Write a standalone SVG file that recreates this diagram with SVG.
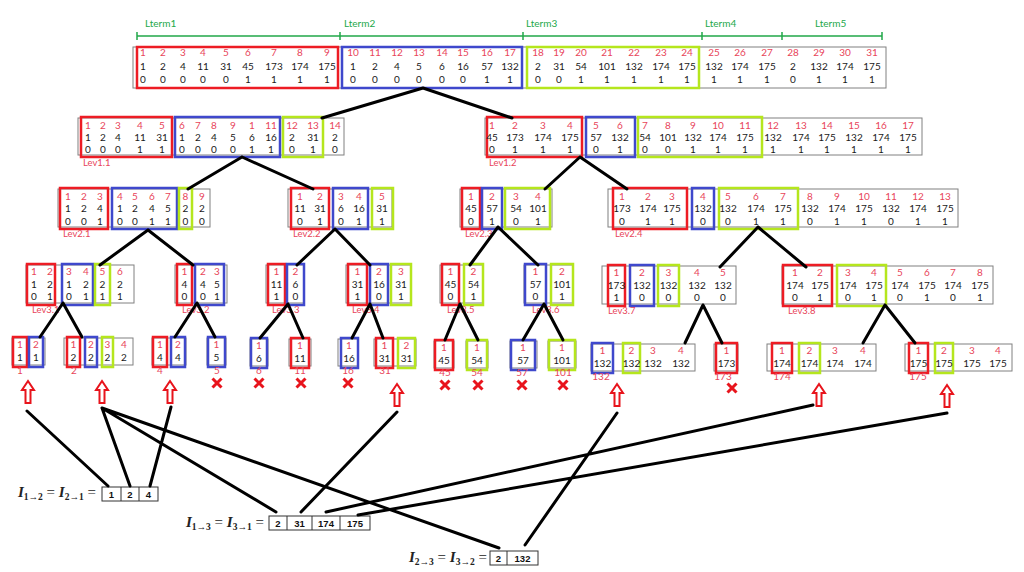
<svg xmlns="http://www.w3.org/2000/svg" xmlns:xlink="http://www.w3.org/1999/xlink" width="1024" height="572" viewBox="0 0 1024 572">
<style>
.o{fill:#fff;stroke:#808080;stroke-width:1}
.r{fill:none;stroke:#ed1c24;stroke-width:2.5}
.b{fill:none;stroke:#3f48cc;stroke-width:2.5}
.g{fill:none;stroke:#b5e61d;stroke-width:2.5}
.n{font-family:Lato,"Liberation Sans",sans-serif;font-size:10px;text-anchor:middle}
.t{fill:#e8455a}
.k{fill:#1a1a1a}
.lab{font-family:Lato,"Liberation Sans",sans-serif;font-size:9.5px;fill:#e8455a}
.lt{font-family:Lato,"Liberation Sans",sans-serif;font-size:10px;fill:#22a84a}
.tl{stroke:#22a84a;stroke-width:1.5;fill:none}
.c{stroke:#000;stroke-width:3;stroke-linecap:round;fill:none}
.x{stroke:#e8141c;stroke-width:3;fill:none}
.eq{font-family:"Liberation Serif",serif;font-size:15px;fill:#222}
.i{font-style:italic;font-weight:bold}
.cell{fill:#fff;stroke:#333;stroke-width:1}
.cn{font-family:"Liberation Sans",sans-serif;font-size:9.5px;font-weight:bold;text-anchor:middle;fill:#111}
</style>
<defs>
<path id="arr" d="M0,-11 L6,-2 L2.5,-2 L2.5,11 L-2.5,11 L-2.5,-2 L-6,-2 Z" fill="#fff" stroke="#e8141c" stroke-width="2"/>
<path id="xx" d="M-4.5,-4.5 L4.5,4.5 M4.5,-4.5 L-4.5,4.5" class="x"/>
</defs>
<rect width="1024" height="572" fill="#fff"/>

<g id="lterm">
<path class="tl" d="M137,36 H882 M137,32 V40 M340,32 V40 M523,32 V40 M702,32 V40 M782,32 V40 M882,32 V40"/>
<text class="lt" x="145" y="27">Lterm1</text>
<text class="lt" x="344" y="27">Lterm2</text>
<text class="lt" x="526" y="27">Lterm3</text>
<text class="lt" x="705" y="27">Lterm4</text>
<text class="lt" x="815" y="27">Lterm5</text>
</g>

<g id="top">
<rect class="o" x="133" y="47" width="753" height="41"/>
<rect class="r" x="137" y="47" width="201" height="41"/>
<rect class="b" x="342" y="47" width="180" height="41"/>
<rect class="g" x="527" y="47" width="172" height="41"/>
<text class="n t" y="56"><tspan x="143">1</tspan><tspan x="163">2</tspan><tspan x="183">3</tspan><tspan x="203">4</tspan><tspan x="226">5</tspan><tspan x="248">6</tspan><tspan x="274">7</tspan><tspan x="300">8</tspan><tspan x="327">9</tspan><tspan x="353">10</tspan><tspan x="375">11</tspan><tspan x="397">12</tspan><tspan x="419">13</tspan><tspan x="442">14</tspan><tspan x="463">15</tspan><tspan x="487">16</tspan><tspan x="510">17</tspan><tspan x="538">18</tspan><tspan x="559">19</tspan><tspan x="581">20</tspan><tspan x="607">21</tspan><tspan x="634">22</tspan><tspan x="661">23</tspan><tspan x="687">24</tspan><tspan x="714">25</tspan><tspan x="740">26</tspan><tspan x="767">27</tspan><tspan x="793">28</tspan><tspan x="819">29</tspan><tspan x="845">30</tspan><tspan x="872">31</tspan></text>
<text class="n k" y="70"><tspan x="143">1</tspan><tspan x="163">2</tspan><tspan x="183">4</tspan><tspan x="203">11</tspan><tspan x="226">31</tspan><tspan x="248">45</tspan><tspan x="274">173</tspan><tspan x="300">174</tspan><tspan x="327">175</tspan><tspan x="353">1</tspan><tspan x="375">2</tspan><tspan x="397">4</tspan><tspan x="419">5</tspan><tspan x="442">6</tspan><tspan x="463">16</tspan><tspan x="487">57</tspan><tspan x="510">132</tspan><tspan x="538">2</tspan><tspan x="559">31</tspan><tspan x="581">54</tspan><tspan x="607">101</tspan><tspan x="634">132</tspan><tspan x="661">174</tspan><tspan x="687">175</tspan><tspan x="714">132</tspan><tspan x="740">174</tspan><tspan x="767">175</tspan><tspan x="793">2</tspan><tspan x="819">132</tspan><tspan x="845">174</tspan><tspan x="872">175</tspan></text>
<text class="n k" y="82.5"><tspan x="143">0</tspan><tspan x="163">0</tspan><tspan x="183">0</tspan><tspan x="203">0</tspan><tspan x="226">0</tspan><tspan x="248">1</tspan><tspan x="274">1</tspan><tspan x="300">1</tspan><tspan x="327">1</tspan><tspan x="353">0</tspan><tspan x="375">0</tspan><tspan x="397">0</tspan><tspan x="419">0</tspan><tspan x="442">0</tspan><tspan x="463">0</tspan><tspan x="487">1</tspan><tspan x="510">1</tspan><tspan x="538">0</tspan><tspan x="559">0</tspan><tspan x="581">1</tspan><tspan x="607">1</tspan><tspan x="634">1</tspan><tspan x="661">1</tspan><tspan x="687">1</tspan><tspan x="714">1</tspan><tspan x="740">1</tspan><tspan x="767">1</tspan><tspan x="793">0</tspan><tspan x="819">1</tspan><tspan x="845">1</tspan><tspan x="872">1</tspan></text>
</g>

<g id="lev1-1">
<rect class="o" x="78" y="118" width="266" height="37"/>
<rect class="r" x="81" y="117" width="91" height="40"/>
<rect class="b" x="175" y="117" width="105" height="40"/>
<rect class="g" x="283" y="117" width="40" height="40"/>
<text class="n t" y="128.5"><tspan x="88">1</tspan><tspan x="103">2</tspan><tspan x="118">3</tspan><tspan x="140">4</tspan><tspan x="162">5</tspan><tspan x="182">6</tspan><tspan x="198">7</tspan><tspan x="214">8</tspan><tspan x="233">9</tspan><tspan x="252">1</tspan><tspan x="271">11</tspan><tspan x="292">12</tspan><tspan x="313">13</tspan><tspan x="335">14</tspan></text>
<text class="n k" y="141"><tspan x="88">1</tspan><tspan x="103">2</tspan><tspan x="118">4</tspan><tspan x="140">11</tspan><tspan x="162">31</tspan><tspan x="182">1</tspan><tspan x="198">2</tspan><tspan x="214">4</tspan><tspan x="233">5</tspan><tspan x="252">6</tspan><tspan x="271">16</tspan><tspan x="292">2</tspan><tspan x="313">31</tspan><tspan x="335">2</tspan></text>
<text class="n k" y="152.5"><tspan x="88">0</tspan><tspan x="103">0</tspan><tspan x="118">0</tspan><tspan x="140">1</tspan><tspan x="162">1</tspan><tspan x="182">0</tspan><tspan x="198">0</tspan><tspan x="214">0</tspan><tspan x="233">0</tspan><tspan x="252">1</tspan><tspan x="271">1</tspan><tspan x="292">0</tspan><tspan x="313">1</tspan><tspan x="335">0</tspan></text>
<text class="lab" x="83" y="166">Lev1.1</text>
</g>

<g id="lev1-2">
<rect class="o" x="485" y="118" width="437" height="37"/>
<rect class="r" x="487" y="117" width="95" height="40"/>
<rect class="b" x="586" y="117" width="49" height="40"/>
<rect class="g" x="638" y="117" width="124" height="40"/>
<text class="n t" y="128.5"><tspan x="492">1</tspan><tspan x="515">2</tspan><tspan x="543">3</tspan><tspan x="570">4</tspan><tspan x="596">5</tspan><tspan x="620">6</tspan><tspan x="645">7</tspan><tspan x="668">8</tspan><tspan x="693">9</tspan><tspan x="718">10</tspan><tspan x="745">11</tspan><tspan x="773">12</tspan><tspan x="801">13</tspan><tspan x="827">14</tspan><tspan x="854">15</tspan><tspan x="881">16</tspan><tspan x="908">17</tspan></text>
<text class="n k" y="141"><tspan x="492">45</tspan><tspan x="515">173</tspan><tspan x="543">174</tspan><tspan x="570">175</tspan><tspan x="596">57</tspan><tspan x="620">132</tspan><tspan x="645">54</tspan><tspan x="668">101</tspan><tspan x="693">132</tspan><tspan x="718">174</tspan><tspan x="745">175</tspan><tspan x="773">132</tspan><tspan x="801">174</tspan><tspan x="827">175</tspan><tspan x="854">132</tspan><tspan x="881">174</tspan><tspan x="908">175</tspan></text>
<text class="n k" y="152.5"><tspan x="492">0</tspan><tspan x="515">1</tspan><tspan x="543">1</tspan><tspan x="570">1</tspan><tspan x="596">0</tspan><tspan x="620">1</tspan><tspan x="645">0</tspan><tspan x="668">0</tspan><tspan x="693">1</tspan><tspan x="718">1</tspan><tspan x="745">1</tspan><tspan x="773">1</tspan><tspan x="801">1</tspan><tspan x="827">1</tspan><tspan x="854">1</tspan><tspan x="881">1</tspan><tspan x="908">1</tspan></text>
<text class="lab" x="489" y="166">Lev1.2</text>
</g>

<g id="lev2-1">
<rect class="o" x="58" y="189" width="152" height="38"/>
<rect class="r" x="60" y="188" width="48" height="41"/>
<rect class="b" x="112" y="188" width="65" height="41"/>
<rect class="g" x="179" y="188" width="13" height="41"/>
<text class="n t" y="199.5"><tspan x="68">1</tspan><tspan x="84">2</tspan><tspan x="100">3</tspan><tspan x="120">4</tspan><tspan x="135">5</tspan><tspan x="152">6</tspan><tspan x="168">7</tspan><tspan x="185.5">8</tspan><tspan x="202">9</tspan></text>
<text class="n k" y="212"><tspan x="68">1</tspan><tspan x="84">2</tspan><tspan x="100">4</tspan><tspan x="120">1</tspan><tspan x="135">2</tspan><tspan x="152">4</tspan><tspan x="168">5</tspan><tspan x="185.5">2</tspan><tspan x="202">2</tspan></text>
<text class="n k" y="224.5"><tspan x="68">0</tspan><tspan x="84">0</tspan><tspan x="100">1</tspan><tspan x="120">0</tspan><tspan x="135">0</tspan><tspan x="152">1</tspan><tspan x="168">1</tspan><tspan x="185.5">0</tspan><tspan x="202">0</tspan></text>
<text class="lab" x="63" y="237">Lev2.1</text>
</g>

<g id="lev2-2">
<rect class="o" x="288" y="189" width="104" height="38"/>
<rect class="r" x="291" y="188" width="38" height="41"/>
<rect class="b" x="333" y="188" width="35" height="41"/>
<rect class="g" x="372" y="188" width="21" height="41"/>
<text class="n t" y="199.5"><tspan x="300">1</tspan><tspan x="320">2</tspan><tspan x="341">3</tspan><tspan x="359">4</tspan><tspan x="382">5</tspan></text>
<text class="n k" y="212"><tspan x="300">11</tspan><tspan x="320">31</tspan><tspan x="341">6</tspan><tspan x="359">16</tspan><tspan x="382">31</tspan></text>
<text class="n k" y="224.5"><tspan x="300">0</tspan><tspan x="320">1</tspan><tspan x="341">0</tspan><tspan x="359">1</tspan><tspan x="382">1</tspan></text>
<text class="lab" x="293" y="237">Lev2.2</text>
</g>

<g id="lev2-3">
<rect class="o" x="460" y="189" width="92" height="38"/>
<rect class="r" x="462" y="188" width="18" height="41"/>
<rect class="b" x="482" y="188" width="20" height="41"/>
<rect class="g" x="505" y="188" width="45" height="41"/>
<text class="n t" y="199.5"><tspan x="471">1</tspan><tspan x="492">2</tspan><tspan x="516">3</tspan><tspan x="538">4</tspan></text>
<text class="n k" y="212"><tspan x="471">45</tspan><tspan x="492">57</tspan><tspan x="516">54</tspan><tspan x="538">101</tspan></text>
<text class="n k" y="224.5"><tspan x="471">0</tspan><tspan x="492">1</tspan><tspan x="516">0</tspan><tspan x="538">1</tspan></text>
<text class="lab" x="465" y="237">Lev2.3</text>
</g>

<g id="lev2-4">
<rect class="o" x="608" y="189" width="350" height="38"/>
<rect class="r" x="613" y="188" width="74" height="41"/>
<rect class="b" x="692" y="188" width="22" height="41"/>
<rect class="g" x="719" y="188" width="79" height="41"/>
<text class="n t" y="199.5"><tspan x="622">1</tspan><tspan x="648">2</tspan><tspan x="672">3</tspan><tspan x="703">4</tspan><tspan x="728">5</tspan><tspan x="756">6</tspan><tspan x="783">7</tspan><tspan x="810">8</tspan><tspan x="837">9</tspan><tspan x="864">10</tspan><tspan x="891">11</tspan><tspan x="918">12</tspan><tspan x="945">13</tspan></text>
<text class="n k" y="212"><tspan x="622">173</tspan><tspan x="648">174</tspan><tspan x="672">175</tspan><tspan x="703">132</tspan><tspan x="728">132</tspan><tspan x="756">174</tspan><tspan x="783">175</tspan><tspan x="810">132</tspan><tspan x="837">174</tspan><tspan x="864">175</tspan><tspan x="891">132</tspan><tspan x="918">174</tspan><tspan x="945">175</tspan></text>
<text class="n k" y="224.5"><tspan x="622">0</tspan><tspan x="648">1</tspan><tspan x="672">1</tspan><tspan x="703">0</tspan><tspan x="728">0</tspan><tspan x="756">1</tspan><tspan x="783">1</tspan><tspan x="810">0</tspan><tspan x="837">1</tspan><tspan x="864">1</tspan><tspan x="891">0</tspan><tspan x="918">1</tspan><tspan x="945">1</tspan></text>
<text class="lab" x="615" y="237">Lev2.4</text>
</g>

<g id="lev3-1">
<rect class="o" x="26" y="265" width="108" height="38"/>
<rect class="r" x="27" y="264" width="28" height="41"/>
<rect class="b" x="62" y="264" width="31" height="41"/>
<rect class="g" x="95" y="264" width="15" height="41"/>
<text class="n t" y="275"><tspan x="34">1</tspan><tspan x="50">2</tspan><tspan x="69">3</tspan><tspan x="86">4</tspan><tspan x="102.5">5</tspan><tspan x="120">6</tspan></text>
<text class="n k" y="288"><tspan x="34">1</tspan><tspan x="50">2</tspan><tspan x="69">1</tspan><tspan x="86">2</tspan><tspan x="102.5">2</tspan><tspan x="120">2</tspan></text>
<text class="n k" y="300"><tspan x="34">0</tspan><tspan x="50">1</tspan><tspan x="69">0</tspan><tspan x="86">1</tspan><tspan x="102.5">1</tspan><tspan x="120">1</tspan></text>
<text class="lab" x="32" y="313">Lev3.1</text>
</g>

<g id="lev3-2">
<rect class="o" x="175" y="265" width="52" height="38"/>
<rect class="r" x="177" y="264" width="15" height="41"/>
<rect class="b" x="195" y="264" width="29" height="41"/>
<text class="n t" y="275"><tspan x="184.5">1</tspan><tspan x="203">2</tspan><tspan x="217">3</tspan></text>
<text class="n k" y="288"><tspan x="184.5">4</tspan><tspan x="203">4</tspan><tspan x="217">5</tspan></text>
<text class="n k" y="300"><tspan x="184.5">0</tspan><tspan x="203">0</tspan><tspan x="217">1</tspan></text>
<text class="lab" x="182" y="313">Lev3.2</text>
</g>

<g id="lev3-3">
<rect class="o" x="266" y="265" width="38" height="38"/>
<rect class="r" x="268" y="264" width="17" height="41"/>
<rect class="b" x="287" y="264" width="17" height="41"/>
<text class="n t" y="275"><tspan x="276.5">1</tspan><tspan x="295.5">2</tspan></text>
<text class="n k" y="288"><tspan x="276.5">11</tspan><tspan x="295.5">6</tspan></text>
<text class="n k" y="300"><tspan x="276.5">1</tspan><tspan x="295.5">0</tspan></text>
<text class="lab" x="272" y="313">Lev3.3</text>
</g>

<g id="lev3-4">
<rect class="o" x="346" y="265" width="65" height="38"/>
<rect class="r" x="348" y="264" width="19" height="41"/>
<rect class="b" x="370" y="264" width="18" height="41"/>
<rect class="g" x="391" y="264" width="20" height="41"/>
<text class="n t" y="275"><tspan x="357.5">1</tspan><tspan x="379">2</tspan><tspan x="401">3</tspan></text>
<text class="n k" y="288"><tspan x="357.5">31</tspan><tspan x="379">16</tspan><tspan x="401">31</tspan></text>
<text class="n k" y="300"><tspan x="357.5">1</tspan><tspan x="379">0</tspan><tspan x="401">1</tspan></text>
<text class="lab" x="352" y="313">Lev3.4</text>
</g>

<g id="lev3-5">
<rect class="o" x="440" y="265" width="43" height="38"/>
<rect class="r" x="442" y="264" width="17" height="41"/>
<rect class="g" x="464" y="264" width="19" height="41"/>
<text class="n t" y="275"><tspan x="450.5">1</tspan><tspan x="473.5">2</tspan></text>
<text class="n k" y="288"><tspan x="450.5">45</tspan><tspan x="473.5">54</tspan></text>
<text class="n k" y="300"><tspan x="450.5">0</tspan><tspan x="473.5">1</tspan></text>
<text class="lab" x="447" y="313">Lev3.5</text>
</g>

<g id="lev3-6">
<rect class="o" x="524" y="265" width="49" height="38"/>
<rect class="b" x="525" y="264" width="21" height="41"/>
<rect class="g" x="551" y="264" width="22" height="41"/>
<text class="n t" y="275"><tspan x="535.5">1</tspan><tspan x="562">2</tspan></text>
<text class="n k" y="288"><tspan x="535.5">57</tspan><tspan x="562">101</tspan></text>
<text class="n k" y="300"><tspan x="535.5">0</tspan><tspan x="562">1</tspan></text>
<text class="lab" x="532" y="313">Lev3.6</text>
</g>

<g id="lev3-7">
<rect class="o" x="602" y="266" width="134" height="38"/>
<rect class="r" x="608" y="265" width="17" height="41"/>
<rect class="b" x="630" y="265" width="24" height="41"/>
<rect class="g" x="658" y="265" width="21" height="41"/>
<text class="n t" y="276"><tspan x="616.5">1</tspan><tspan x="642">2</tspan><tspan x="668.5">3</tspan><tspan x="697">4</tspan><tspan x="723">5</tspan></text>
<text class="n k" y="289"><tspan x="616.5">173</tspan><tspan x="642">132</tspan><tspan x="668.5">132</tspan><tspan x="697">132</tspan><tspan x="723">132</tspan></text>
<text class="n k" y="301"><tspan x="616.5">1</tspan><tspan x="642">0</tspan><tspan x="668.5">0</tspan><tspan x="697">0</tspan><tspan x="723">0</tspan></text>
<text class="lab" x="608" y="314">Lev3.7</text>
</g>

<g id="lev3-8">
<rect class="o" x="782" y="266" width="211" height="38"/>
<rect class="r" x="783" y="265" width="49" height="41"/>
<rect class="g" x="837" y="265" width="49" height="41"/>
<text class="n t" y="276"><tspan x="795">1</tspan><tspan x="820">2</tspan><tspan x="848">3</tspan><tspan x="874">4</tspan><tspan x="900">5</tspan><tspan x="927">6</tspan><tspan x="953">7</tspan><tspan x="980">8</tspan></text>
<text class="n k" y="289"><tspan x="795">174</tspan><tspan x="820">175</tspan><tspan x="848">174</tspan><tspan x="874">175</tspan><tspan x="900">174</tspan><tspan x="927">175</tspan><tspan x="953">174</tspan><tspan x="980">175</tspan></text>
<text class="n k" y="301"><tspan x="795">0</tspan><tspan x="820">1</tspan><tspan x="848">0</tspan><tspan x="874">1</tspan><tspan x="900">0</tspan><tspan x="927">1</tspan><tspan x="953">0</tspan><tspan x="980">1</tspan></text>
<text class="lab" x="788" y="314">Lev3.8</text>
</g>

<g id="leaf-1">
<rect class="o" x="12" y="338" width="33" height="27"/>
<rect class="r" x="13" y="337" width="14" height="30"/>
<rect class="b" x="29" y="337" width="14" height="30"/>
<text class="n t" y="348"><tspan x="20">1</tspan><tspan x="36">2</tspan></text>
<text class="n k" y="361"><tspan x="20">1</tspan><tspan x="36">1</tspan></text>
<text class="n t" x="20" y="374">1</text>
</g>
<g id="leaf-2">
<rect class="o" x="64" y="338" width="69" height="27"/>
<rect class="r" x="67" y="337" width="13" height="30"/>
<rect class="b" x="85" y="337" width="12" height="30"/>
<rect class="g" x="102" y="337" width="11" height="30"/>
<text class="n t" y="348"><tspan x="73.5">1</tspan><tspan x="91">2</tspan><tspan x="107.5">3</tspan><tspan x="124">4</tspan></text>
<text class="n k" y="361"><tspan x="73.5">2</tspan><tspan x="91">2</tspan><tspan x="107.5">2</tspan><tspan x="124">2</tspan></text>
<text class="n t" x="74" y="374">2</text>
</g>
<g id="leaf-4">
<rect class="o" x="152" y="338" width="34" height="27"/>
<rect class="r" x="153" y="337" width="14" height="30"/>
<rect class="b" x="171" y="337" width="14" height="30"/>
<text class="n t" y="348"><tspan x="160">1</tspan><tspan x="178">2</tspan></text>
<text class="n k" y="361"><tspan x="160">4</tspan><tspan x="178">4</tspan></text>
<text class="n t" x="160" y="374">4</text>
</g>
<g id="leaf-5">
<rect class="o" x="207" y="338" width="19" height="27"/>
<rect class="b" x="208" y="337" width="17" height="30"/>
<text class="n t" x="216.5" y="348">1</text>
<text class="n k" x="216.5" y="361">5</text>
<text class="n t" x="217" y="374">5</text>
</g>
<g id="leaf-6">
<rect class="o" x="250" y="339" width="18" height="27"/>
<rect class="b" x="251" y="338" width="16" height="30"/>
<text class="n t" x="259" y="349">1</text>
<text class="n k" x="259" y="362">6</text>
<text class="n t" x="259" y="374">6</text>
</g>
<g id="leaf-11">
<rect class="o" x="289" y="339" width="22" height="27"/>
<rect class="r" x="291" y="338" width="18" height="30"/>
<text class="n t" x="300" y="349">1</text>
<text class="n k" x="300" y="362">11</text>
<text class="n t" x="300" y="374">11</text>
</g>
<g id="leaf-16">
<rect class="o" x="338" y="339" width="20" height="27"/>
<rect class="b" x="341" y="338" width="17" height="30"/>
<text class="n t" x="349" y="349">1</text>
<text class="n k" x="349" y="362">16</text>
<text class="n t" x="348" y="374">16</text>
</g>
<g id="leaf-31">
<rect class="o" x="374" y="339" width="42" height="27"/>
<rect class="r" x="376" y="338" width="17" height="30"/>
<rect class="g" x="398" y="338" width="17" height="30"/>
<text class="n t" y="349"><tspan x="384.5">1</tspan><tspan x="406.5">2</tspan></text>
<text class="n k" y="362"><tspan x="384.5">31</tspan><tspan x="406.5">31</tspan></text>
<text class="n t" x="385" y="374">31</text>
</g>
<g id="leaf-45">
<rect class="o" x="434" y="341" width="20" height="27"/>
<rect class="r" x="435" y="340" width="18" height="30"/>
<text class="n t" x="444" y="351">1</text>
<text class="n k" x="444" y="364">45</text>
<text class="n t" x="445" y="376">45</text>
</g>
<g id="leaf-54">
<rect class="o" x="466" y="341" width="22" height="27"/>
<rect class="g" x="467" y="340" width="20" height="30"/>
<text class="n t" x="477" y="351">1</text>
<text class="n k" x="477" y="364">54</text>
<text class="n t" x="477" y="376">54</text>
</g>
<g id="leaf-57">
<rect class="o" x="510" y="341" width="27" height="27"/>
<rect class="b" x="511" y="340" width="24" height="30"/>
<text class="n t" x="523" y="351">1</text>
<text class="n k" x="523" y="364">57</text>
<text class="n t" x="522" y="376">57</text>
</g>
<g id="leaf-101">
<rect class="o" x="548" y="341" width="28" height="27"/>
<rect class="g" x="549" y="340" width="26" height="30"/>
<text class="n t" x="562" y="351">1</text>
<text class="n k" x="562" y="364">101</text>
<text class="n t" x="563" y="376">101</text>
</g>
<g id="leaf-132">
<rect class="o" x="591" y="344" width="104" height="27"/>
<rect class="b" x="592" y="343" width="21" height="30"/>
<rect class="g" x="623" y="343" width="17" height="30"/>
<text class="n t" y="354"><tspan x="602.5">1</tspan><tspan x="631.5">2</tspan><tspan x="653">3</tspan><tspan x="681">4</tspan></text>
<text class="n k" y="367"><tspan x="602.5">132</tspan><tspan x="631.5">132</tspan><tspan x="653">132</tspan><tspan x="681">132</tspan></text>
<text class="n t" x="601" y="380">132</text>
</g>
<g id="leaf-173">
<rect class="o" x="714" y="344" width="24" height="27"/>
<rect class="r" x="716" y="343" width="21" height="30"/>
<text class="n t" x="726.5" y="354">1</text>
<text class="n k" x="726.5" y="367">173</text>
<text class="n t" x="723" y="380">173</text>
</g>
<g id="leaf-174">
<rect class="o" x="767" y="344" width="109" height="27"/>
<rect class="r" x="772" y="343" width="20" height="30"/>
<rect class="g" x="799" y="343" width="21" height="30"/>
<text class="n t" y="354"><tspan x="782">1</tspan><tspan x="809.5">2</tspan><tspan x="835">3</tspan><tspan x="863">4</tspan></text>
<text class="n k" y="367"><tspan x="782">174</tspan><tspan x="809.5">174</tspan><tspan x="835">174</tspan><tspan x="863">174</tspan></text>
<text class="n t" x="782" y="380">174</text>
</g>
<g id="leaf-175">
<rect class="o" x="905" y="344" width="107" height="27"/>
<rect class="r" x="909" y="343" width="19" height="30"/>
<rect class="g" x="935" y="343" width="18" height="30"/>
<text class="n t" y="354"><tspan x="918.5">1</tspan><tspan x="944">2</tspan><tspan x="972">3</tspan><tspan x="998">4</tspan></text>
<text class="n k" y="367"><tspan x="918.5">175</tspan><tspan x="944">175</tspan><tspan x="972">175</tspan><tspan x="998">175</tspan></text>
<text class="n t" x="918" y="380">175</text>
</g>

<g id="marks">
<use xlink:href="#xx" x="217" y="383"/>
<use xlink:href="#xx" x="259" y="383"/>
<use xlink:href="#xx" x="301" y="383"/>
<use xlink:href="#xx" x="348" y="383"/>
<use xlink:href="#xx" x="445" y="385"/>
<use xlink:href="#xx" x="478" y="385"/>
<use xlink:href="#xx" x="522" y="385"/>
<use xlink:href="#xx" x="563" y="385"/>
<use xlink:href="#xx" x="732" y="388"/>
<use xlink:href="#arr" x="28" y="392"/>
<use xlink:href="#arr" x="102" y="392"/>
<use xlink:href="#arr" x="170" y="392"/>
<use xlink:href="#arr" x="397" y="395"/>
<use xlink:href="#arr" x="617" y="395"/>
<use xlink:href="#arr" x="819" y="395"/>
<use xlink:href="#arr" x="947" y="396"/>
</g>

<g id="eq-12">
<text class="eq" x="18" y="497"><tspan class="i">I</tspan><tspan dy="3" font-size="9.5" font-weight="bold">1→2</tspan><tspan dy="-3"> = </tspan><tspan class="i">I</tspan><tspan dy="3" font-size="9.5" font-weight="bold">2→1</tspan><tspan dy="-3"> =</tspan></text>
<rect class="cell" x="102" y="487" width="56" height="14"/>
<path d="M121,487 V501 M139,487 V501" stroke="#333" stroke-width="1"/>
<text class="cn" y="498"><tspan x="111.5">1</tspan><tspan x="130">2</tspan><tspan x="148.5">4</tspan></text>
</g>
<g id="eq-13">
<text class="eq" x="186" y="527"><tspan class="i">I</tspan><tspan dy="3" font-size="9.5" font-weight="bold">1→3</tspan><tspan dy="-3"> = </tspan><tspan class="i">I</tspan><tspan dy="3" font-size="9.5" font-weight="bold">3→1</tspan><tspan dy="-3"> =</tspan></text>
<rect class="cell" x="269" y="516" width="101" height="14"/>
<path d="M287,516 V530 M312,516 V530 M340,516 V530" stroke="#333" stroke-width="1"/>
<text class="cn" y="527"><tspan x="278">2</tspan><tspan x="299.5">31</tspan><tspan x="326">174</tspan><tspan x="355">175</tspan></text>
</g>
<g id="eq-23">
<text class="eq" x="409" y="562"><tspan class="i">I</tspan><tspan dy="3" font-size="9.5" font-weight="bold">2→3</tspan><tspan dy="-3"> = </tspan><tspan class="i">I</tspan><tspan dy="3" font-size="9.5" font-weight="bold">3→2</tspan><tspan dy="-3"> =</tspan></text>
<rect class="cell" x="490" y="551" width="48" height="14"/>
<path d="M507,551 V565" stroke="#333" stroke-width="1"/>
<text class="cn" y="562"><tspan x="498.5">2</tspan><tspan x="522.5">132</tspan></text>
</g>

<g id="connectors" class="c">
<path d="M423,88 L322,118 M423,88 L512,118"/>
<path d="M242,157 L188,189 M242,157 L313,189"/>
<path d="M580,157 L545,189 M580,157 L627,189"/>
<path d="M148,230 L100,265 M148,230 L193,265"/>
<path d="M335,229 L297,265 M335,229 L370,265"/>
<path d="M498,227 L470,265 M498,227 L538,265"/>
<path d="M758,227 L720,267 M758,227 L806,267"/>
<path d="M63,303 L40,337 M63,303 L82,337"/>
<path d="M197,303 L175,337 M197,303 L215,337"/>
<path d="M288,304 L260,338 M288,304 L303,338"/>
<path d="M370,304 L352,338 M370,304 L383,338"/>
<path d="M460,304 L445,340 M460,304 L478,340"/>
<path d="M544,304 L523,340 M544,304 L563,340"/>
<path d="M703,305 L685,343 M703,305 L722,343"/>
<path d="M885,305 L863,343 M885,305 L915,343"/>
<path d="M27,411 L108,486 M102,408 L130,486 M171,407 L150,486 M102,408 L276,512 M102,408 L499,548"/>
<path d="M397,412 L301,512 M617,413 L525,545 M326,512 L813,405 M358,515 L947,413"/>
</g>
</svg>
